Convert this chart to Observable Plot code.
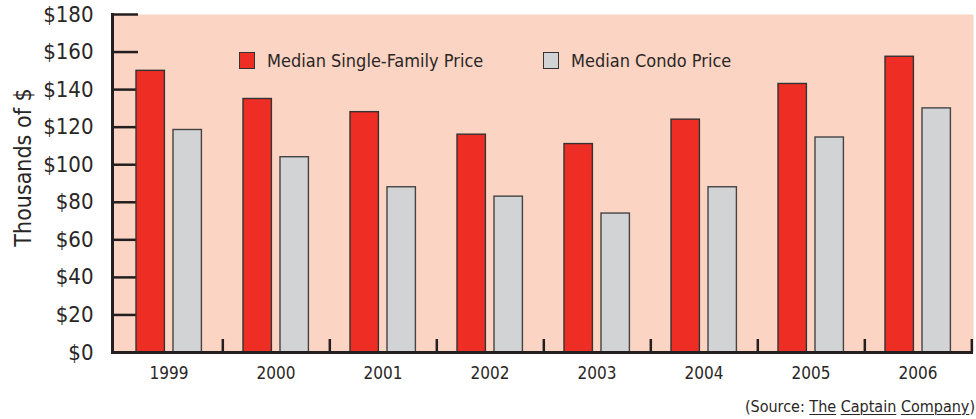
<!DOCTYPE html>
<html><head><meta charset="utf-8">
<script src="https://cdn.jsdelivr.net/npm/d3@7"></script>
<script src="https://cdn.jsdelivr.net/npm/@observablehq/plot@0.6"></script>
<style>
body{margin:0;background:#fff;}
#wrap{position:relative;width:976px;height:419px;font-family:"Liberation Sans Narrow","DejaVu Sans Condensed",sans-serif;font-stretch:condensed;color:#2a2626;}
#wrap svg{display:block;font-family:"Liberation Sans Narrow","DejaVu Sans Condensed",sans-serif;}
.leg{position:absolute;top:51px;height:18px;display:flex;align-items:center;font-size:18px;white-space:nowrap;}
.sw{width:16px;height:17px;border:1px solid #333;margin-right:12px;box-sizing:border-box;}
#caption{position:absolute;right:1px;top:395px;font-size:16px;line-height:24px;}
#caption u{text-decoration-thickness:1px;text-underline-offset:2px;}
</style>
</head><body><div id="wrap"></div>
<script>
const years = ["1999","2000","2001","2002","2003","2004","2005","2006"];
const singleFamily = [150, 135, 128, 116, 111, 124, 143, 157.5];
const condo = [118.5, 104, 88, 83, 74, 88, 114.5, 130];
const yTicks = [0, 20, 40, 60, 80, 100, 120, 140, 160, 180];
const seriesNames = ["Median Single-Family Price", "Median Condo Price"];
const colors = ["#ee2d24", "#d1d3d4"];

const data = years.map((y, i) => ({year: y, single: singleFamily[i], condo: condo[i]}));

const W = 976, H = 392, mL = 112, mR = 3, mT = 14, mB = 40;
const step = (W - mL - mR) / years.length;
const ink = "#231f20";

const chart = Plot.plot({
  width: W, height: H,
  marginLeft: mL, marginRight: mR, marginTop: mT, marginBottom: mB,
  style: {fontSize: "18px", color: ink, background: "transparent"},
  x: {type: "band", domain: years, padding: 0, label: null},
  y: {domain: [0, 180], label: null},
  marks: [
    Plot.frame({fill: "#fcd4c3", stroke: null}),
    Plot.axisY({ticks: yTicks, tickSize: -26, strokeWidth: 2.5, stroke: ink, tickFormat: () => ""}),
    Plot.axisY({ticks: yTicks, tickSize: 0, tickPadding: 19, fontSize: 22, tickFormat: d => "$" + d, fill: "#2a2626"}),
    Plot.barY(data, {x: "year", y: "single", fill: colors[0], stroke: "#333", strokeWidth: 1.4, insetLeft: 21, insetRight: 57.6}),
    Plot.barY(data, {x: "year", y: "condo", fill: colors[1], stroke: "#444", strokeWidth: 1.4, insetLeft: 58, insetRight: 20.6}),
    Plot.axisX({tickSize: -13, dx: step / 2, strokeWidth: 2.5, stroke: ink, tickFormat: () => ""}),
    Plot.axisX({tickSize: 0, tickPadding: 14, fontSize: 17, fill: "#2a2626"}),
    Plot.ruleY([0], {stroke: ink, strokeWidth: 3}),
    Plot.frame({anchor: "left", stroke: ink, strokeWidth: 3}),
    Plot.text(["Thousands of $"], {frameAnchor: "left", textAnchor: "middle", rotate: -90, dx: -89, dy: -16, fontSize: 23, fill: "#2a2626"})
  ]
});

const wrap = document.getElementById("wrap");
wrap.appendChild(chart);

const legX = [239, 543];
seriesNames.forEach((name, i) => {
  const d = document.createElement("div");
  d.className = "leg";
  d.style.left = legX[i] + "px";
  const sw = document.createElement("div");
  sw.className = "sw";
  sw.style.background = colors[i];
  const t = document.createElement("span");
  t.textContent = name;
  d.appendChild(sw); d.appendChild(t);
  wrap.appendChild(d);
});

const cap = document.createElement("div");
cap.id = "caption";
cap.innerHTML = "(Source: <u>The</u> <u>Captain</u> <u>Company</u>)";
wrap.appendChild(cap);
</script>
</body></html>
